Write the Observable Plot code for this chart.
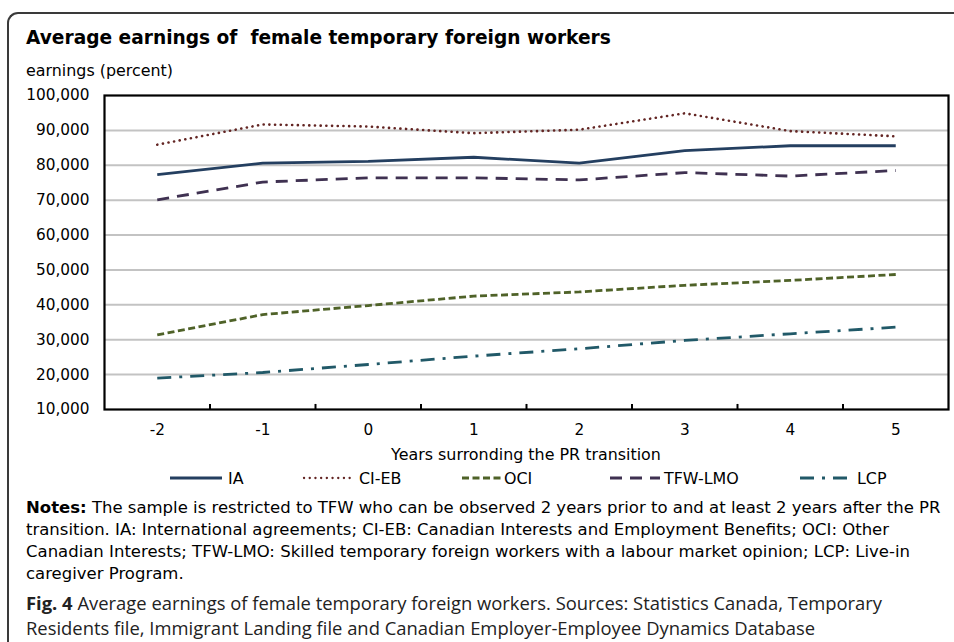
<!DOCTYPE html>
<html>
<head>
<meta charset="utf-8">
<script src="https://cdn.jsdelivr.net/npm/d3@7"></script>
<script src="https://cdn.jsdelivr.net/npm/@observablehq/plot@0.6"></script>
<style>
  html, body { margin: 0; padding: 0; background: #fff; }
  body { width: 954px; height: 642px; position: relative; overflow: hidden; font-family: "DejaVu Sans", Verdana, sans-serif; color: #000; }
  .box { position: absolute; left: 7px; top: 12px; width: 1000px; height: 700px; border-left: 2px solid #3a3a3a; border-top: 2px solid #3a3a3a; border-top-left-radius: 11px; }
  .abs { position: absolute; white-space: nowrap; }
  #title { left: 26px; top: 26px; font-size: 18.6px; font-weight: bold; line-height: 24px; }
  #subtitle { left: 26px; top: 61px; font-size: 15.9px; line-height: 20px; }
  #chart { position: absolute; left: 0; top: 80px; }
  #xlabel { left: 0; width: 1052px; top: 445px; font-size: 15.9px; line-height: 20px; text-align: center; }
  #legend { left: 0; top: 468px; width: 954px; height: 20px; }
  #notes { left: 26px; top: 497px; font-size: 16.5px; line-height: 22px; }
  #caption { left: 26px; top: 590px; font-family: "Open Sans", sans-serif; font-size: 18.4px; line-height: 25px; color: #222; }
</style>
</head>
<body>
<div class="box"></div>
<div id="title" class="abs">Average earnings of&nbsp; female temporary foreign workers</div>
<div id="subtitle" class="abs">earnings (percent)</div>
<div id="chart"></div>
<div id="xlabel" class="abs">Years surronding the PR transition</div>
<div id="legend" class="abs"></div>
<div id="notes" class="abs"><b>Notes:</b> The sample is restricted to TFW who can be observed 2 years prior to and at least 2 years after the PR<br>transition. IA: International agreements; CI-EB: Canadian Interests and Employment Benefits; OCI: Other<br>Canadian Interests; TFW-LMO: Skilled temporary foreign workers with a labour market opinion; LCP: Live-in<br>caregiver Program.</div>
<div id="caption" class="abs"><b>Fig. 4</b> Average earnings of female temporary foreign workers. Sources: Statistics Canada, Temporary<br>Residents file, Immigrant Landing file and Canadian Employer-Employee Dynamics Database</div>
<script>
const years = [-2, -1, 0, 1, 2, 3, 4, 5];
const IA      = [77300, 80600, 81100, 82300, 80600, 84200, 85600, 85600];
const CIEB    = [85900, 91700, 91100, 89200, 90200, 94900, 89800, 88300];
const OCI     = [31400, 37200, 39800, 42500, 43700, 45600, 47000, 48700];
const TFWLMO  = [70100, 75200, 76400, 76400, 75800, 77900, 76900, 78500];
const LCP     = [19000, 20600, 22900, 25300, 27400, 29800, 31700, 33600];
const yTicks = [10000, 20000, 30000, 40000, 50000, 60000, 70000, 80000, 90000, 100000];
const gridTicks = [20000, 30000, 40000, 50000, 60000, 70000, 80000, 90000];
const boundaryTicks = [-1.5, -0.5, 0.5, 1.5, 2.5, 3.5, 4.5];

const DOT = "0.1,5.6";
const series = [
  {name: "IA", values: IA, color: "#243F60", dash: null, lx: 170, lw: 52, tx: 228},
  {name: "CI-EB", values: CIEB, color: "#632523", dash: DOT, lx: 304, lw: 46, tx: 359},
  {name: "OCI", values: OCI, color: "#4F6228", dash: "7,3.5", lx: 462, lw: 41, tx: 504},
  {name: "TFW-LMO", values: TFWLMO, color: "#3F3151", dash: "12,8", lx: 610, lw: 50, tx: 664},
  {name: "LCP", values: LCP, color: "#215968", dash: "14,8,3,8", lx: 800, lw: 47, tx: 857}
];

const rows = series.flatMap(s => years.map((yr, i) => ({series: s.name, year: yr, value: s.values[i]})));

const lineMarks = series.map(s => Plot.line(rows.filter(r => r.series === s.name), {
  x: "year", y: "value", stroke: s.color, strokeWidth: s.dash === DOT ? 2.6 : 2.8,
  strokeDasharray: s.dash, strokeLinecap: s.dash === DOT ? "round" : "butt", strokeLinejoin: "round"
}));

const plot = Plot.plot({
  width: 954,
  height: 390,
  marginTop: 15,
  marginBottom: 61,
  marginLeft: 104,
  marginRight: 6,
  style: {fontFamily: "DejaVu Sans, Verdana, sans-serif", fontSize: "15px", color: "#000", background: "transparent"},
  x: {domain: [-2.5, 5.5]},
  y: {domain: [10000, 100000]},
  marks: [
    Plot.ruleY(gridTicks, {stroke: "#c3c3c3", strokeWidth: 2}),
    ...lineMarks,
    Plot.ruleX(boundaryTicks, {y1: 10000, y2: 11450, stroke: "#000", strokeWidth: 2}),
    Plot.frame({stroke: "#000", strokeWidth: 2.2}),
    Plot.axisY(yTicks, {tickSize: 0, tickPadding: 15, tickFormat: d3.format(","), label: null, fontSize: 15.3}),
    Plot.axisX(years, {tickSize: 0, tickPadding: 15, tickFormat: d => String(d), label: null, fontSize: 15.3})
  ]
});
document.getElementById("chart").appendChild(plot);

// legend
const legend = document.getElementById("legend");
const ns = "http://www.w3.org/2000/svg";
const lsvg = document.createElementNS(ns, "svg");
lsvg.setAttribute("width", 954);
lsvg.setAttribute("height", 20);
lsvg.style.position = "absolute";
lsvg.style.left = "0";
lsvg.style.top = "0";
series.forEach(s => {
  const ln = document.createElementNS(ns, "line");
  ln.setAttribute("x1", s.lx); ln.setAttribute("x2", s.lx + s.lw);
  ln.setAttribute("y1", 10); ln.setAttribute("y2", 10);
  ln.setAttribute("stroke", s.color); ln.setAttribute("stroke-width", 2.8);
  if (s.dash) ln.setAttribute("stroke-dasharray", s.dash);
  if (s.dash === DOT) { ln.setAttribute("stroke-linecap", "round"); ln.setAttribute("stroke-width", 2.3); }
  lsvg.appendChild(ln);
  const t = document.createElementNS(ns, "text");
  t.setAttribute("x", s.tx); t.setAttribute("y", 10);
  t.setAttribute("dy", "0.35em");
  t.setAttribute("font-size", "15.9px");
  t.setAttribute("font-family", "DejaVu Sans, Verdana, sans-serif");
  t.textContent = s.name;
  lsvg.appendChild(t);
});
legend.appendChild(lsvg);
</script>
</body>
</html>
